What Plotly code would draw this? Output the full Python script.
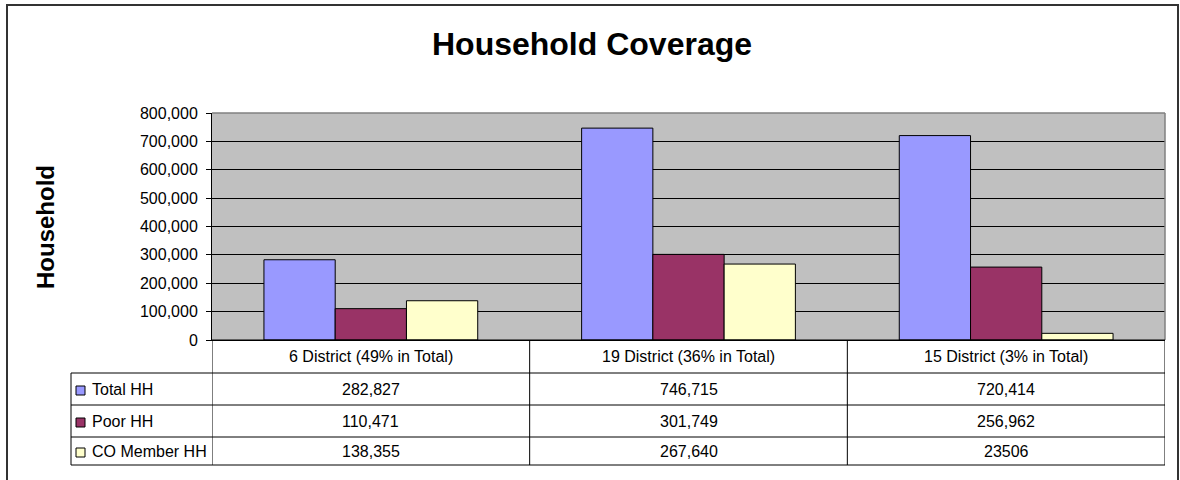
import plotly.graph_objects as go

# ---- data ----
categories = ["6 District (49% in Total)", "19 District (36% in Total)", "15 District (3% in Total)"]
series_names = ["Total HH", "Poor HH", "CO Member HH"]
total_hh = [282827, 746715, 720414]
poor_hh = [110471, 301749, 256962]
co_member_hh = [138355, 267640, 23506]
colors = ["#9999FF", "#993366", "#FFFFCC"]
# cells shown without thousands separator in the source table
plain_cells = [("CO Member HH", 2)]
y_ticks = [0, 100000, 200000, 300000, 400000, 500000, 600000, 700000, 800000]

series_values = [total_hh, poor_hh, co_member_hh]

FONT = "Liberation Sans, Arial, sans-serif"
W, H = 1180, 480
# target page-pixel positions of plot area
PL, PR, PT, PB = 212, 1165, 113, 340
L, R, T, B = PL, W - PR, PT, H - PB
PW = PR - PL
PH = PB - PT


def px(xp):
    return (xp - PL) / PW


def py(yp):
    return (PB - yp) / PH


fig = go.Figure()
for name, vals, col in zip(series_names, series_values, colors):
    fig.add_trace(go.Bar(
        x=categories, y=vals, name=name,
        marker=dict(color=col, line=dict(color="black", width=1)),
        showlegend=False,
    ))

shapes = []
annotations = []

# plot area top/right border (gray)
shapes.append(dict(type="line", xref="paper", yref="paper", x0=0, x1=1, y0=1, y1=1,
                   line=dict(color="#808080", width=1.5)))
shapes.append(dict(type="line", xref="paper", yref="paper", x0=1, x1=1, y0=0, y1=1,
                   line=dict(color="#808080", width=1.5)))

# ---- data table ----
row_pix = [340, 373, 405, 437, 465]
row_y = [py(v) for v in row_pix]
legend_left = px(71)

for i, yy in enumerate(row_y):
    x0 = 0 if i == 0 else legend_left
    shapes.append(dict(type="line", xref="paper", yref="paper", x0=x0, x1=1, y0=yy, y1=yy,
                       line=dict(color="black", width=1)))
n = len(categories)
for k in range(n + 1):
    shapes.append(dict(type="line", xref="x", yref="paper", x0=k - 0.5, x1=k - 0.5,
                       y0=row_y[0], y1=row_y[-1], line=dict(color="black", width=1)))
shapes.append(dict(type="line", xref="paper", yref="paper", x0=legend_left, x1=legend_left,
                   y0=row_y[1], y1=row_y[-1], line=dict(color="black", width=1)))

hdr_y = (row_y[0] + row_y[1]) / 2
for k, c in enumerate(categories):
    annotations.append(dict(xref="x", yref="paper", x=k, y=hdr_y, text=c, showarrow=False,
                            xanchor="center", yanchor="middle",
                            font=dict(family=FONT, size=16, color="black")))

for r, (name, vals, col) in enumerate(zip(series_names, series_values, colors)):
    yc = (row_y[r + 1] + row_y[r + 2]) / 2
    ycp = (row_pix[r + 1] + row_pix[r + 2]) / 2 + 1.5
    shapes.append(dict(type="rect", xref="paper", yref="paper", x0=px(76), x1=px(85),
                       y0=py(ycp + 4.5), y1=py(ycp - 4.5),
                       fillcolor=col, line=dict(color="black", width=1)))
    annotations.append(dict(xref="paper", yref="paper", x=px(90), y=yc, text=name,
                            showarrow=False, xanchor="left", yanchor="middle",
                            font=dict(family=FONT, size=16, color="black")))
    for k, v in enumerate(vals):
        txt = str(v) if (name, k) in plain_cells else f"{v:,}"
        annotations.append(dict(xref="x", yref="paper", x=k, y=yc, text=txt,
                                showarrow=False, xanchor="center", yanchor="middle",
                                font=dict(family=FONT, size=16, color="black")))

annotations.append(dict(xref="paper", yref="paper", x=px(45), y=py(227), text="<b>Household</b>",
                        textangle=-90, showarrow=False, xanchor="center", yanchor="middle",
                        font=dict(family=FONT, size=24, color="black")))

# outer frame
shapes.append(dict(type="rect", xref="paper", yref="paper", x0=px(7), x1=px(1178),
                   y0=py(500), y1=py(5), line=dict(color="#333333", width=2),
                   fillcolor="rgba(0,0,0,0)"))

fig.update_layout(
    width=W, height=H,
    margin=dict(l=L, r=R, t=T, b=B, pad=0),
    paper_bgcolor="white", plot_bgcolor="#C0C0C0",
    barmode="group", bargap=0.327, bargroupgap=0,
    title=dict(text="<b>Household Coverage</b>", x=592 / W, xanchor="center",
               y=1 - 44 / H, yanchor="middle",
               font=dict(family=FONT, size=32, color="black")),
    xaxis=dict(type="category", range=[-0.5, n - 0.5], showticklabels=False,
               showgrid=False, showline=True, linecolor="black", linewidth=1,
               ticks="", zeroline=False, fixedrange=True),
    yaxis=dict(range=[0, 800000], tickvals=y_ticks, tickformat=",d",
               showgrid=True, gridcolor="black", gridwidth=1,
               showline=True, linecolor="black", linewidth=1,
               ticks="outside", ticklen=5, tickcolor="black",
               ticklabelstandoff=5,
               zeroline=False,
               tickfont=dict(family=FONT, size=16, color="black")),
    shapes=shapes, annotations=annotations,
)

fig.write_html("out.html", config={"displayModeBar": False},
               post_script="document.body.style.margin='0';document.body.style.overflow='hidden';")
